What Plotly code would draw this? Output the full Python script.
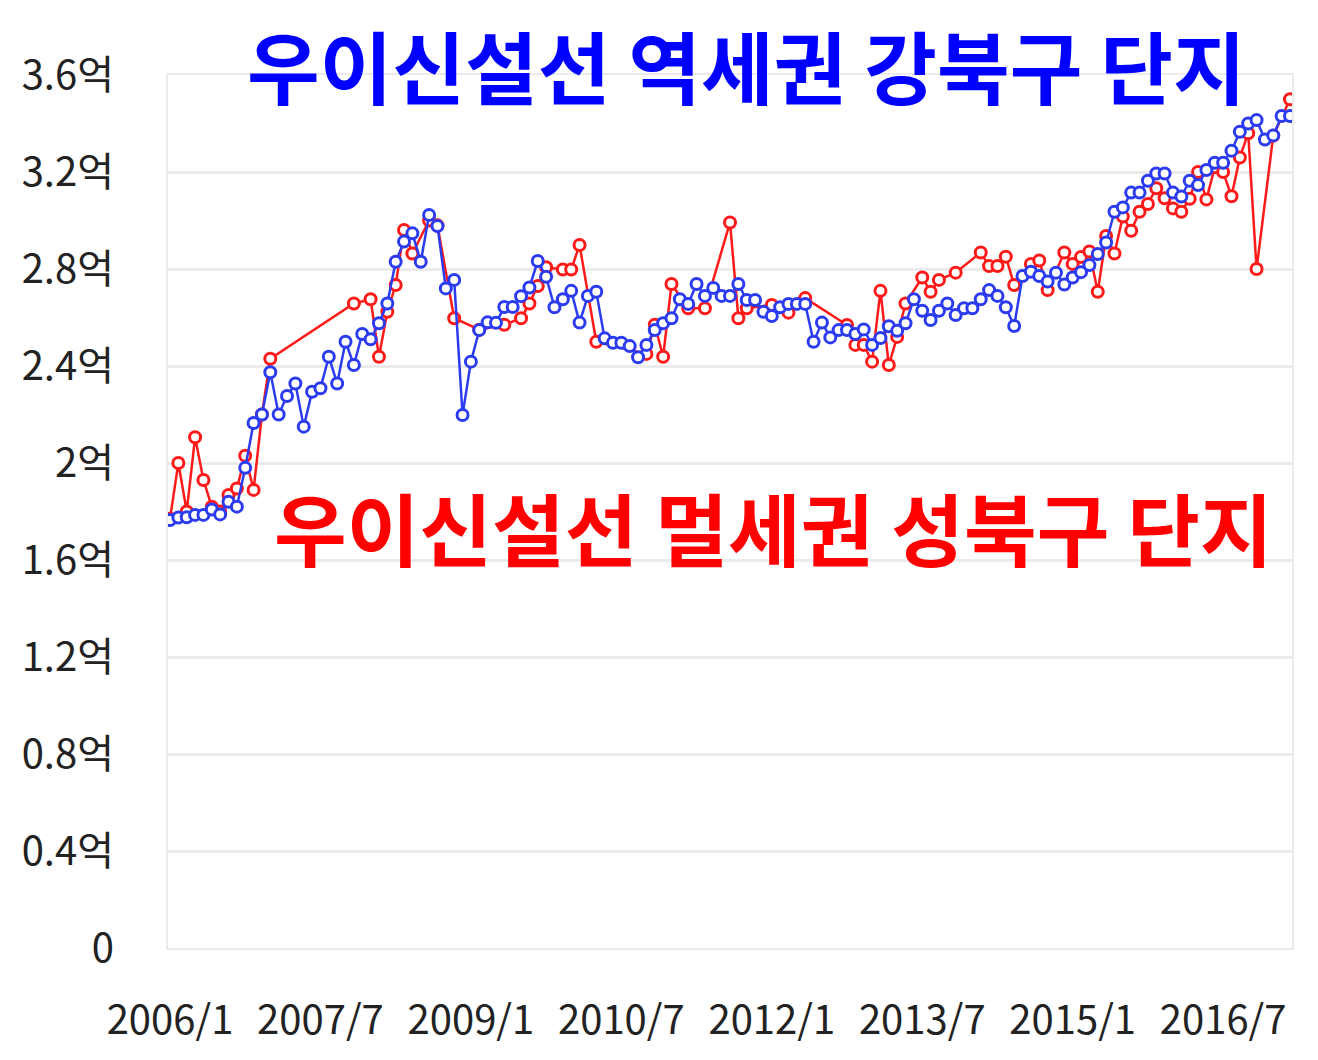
import plotly.graph_objects as go

# Monthly categories 2006/1 .. 2017/3
months = [f"{2006 + k // 12}/{k % 12 + 1}" for k in range(135)]

tick_labels = ["2006/1", "2007/7", "2009/1", "2010/7", "2012/1", "2013/7", "2015/1", "2016/7"]
y_ticks = [0, 0.4, 0.8, 1.2, 1.6, 2.0, 2.4, 2.8, 3.2, 3.6]
y_tick_text = ["0", "0.4억", "0.8억", "1.2억", "1.6억", "2억", "2.4억", "2.8억", "3.2억", "3.6억"]

# 우이신설선 역세권 강북구 단지 (blue)
gangbuk = [
    1.765, 1.775, 1.776, 1.786, 1.786, 1.808, 1.788, 1.84, 1.82, 1.98,
    2.165, 2.20, 2.374, 2.20, 2.276, 2.328, 2.15, 2.294, 2.308, 2.438,
    2.328, 2.50, 2.404, 2.532, 2.51, 2.576, 2.658, 2.83, 2.913, 2.947,
    2.83, 3.023, 2.977, 2.72, 2.755, 2.198, 2.418, 2.548, 2.58, 2.578,
    2.643, 2.643, 2.688, 2.724, 2.833, 2.768, 2.642, 2.675, 2.71, 2.579,
    2.689, 2.706, 2.514, 2.496, 2.496, 2.482, 2.436, 2.487, 2.548, 2.576,
    2.597, 2.675, 2.656, 2.738, 2.689, 2.722, 2.689, 2.689, 2.738, 2.672,
    2.672, 2.624, 2.606, 2.642, 2.656, 2.656, 2.656, 2.50, 2.579, 2.518,
    2.548, 2.548, 2.532, 2.551, 2.487, 2.515, 2.564, 2.545, 2.576, 2.675,
    2.628, 2.59, 2.628, 2.658, 2.61, 2.638, 2.638, 2.675, 2.713, 2.689,
    2.642, 2.565, 2.771, 2.789, 2.771, 2.748, 2.785, 2.736, 2.765, 2.787,
    2.816, 2.862, 2.909, 3.036, 3.054, 3.115, 3.115, 3.164, 3.194, 3.194,
    3.115, 3.099, 3.164, 3.146, 3.208, 3.238, 3.238, 3.288, 3.366, 3.40,
    3.414, 3.334, 3.351, 3.431, 3.431,
]

# 우이신설선 멀세권 성북구 단지 (red), None = no transaction that month
seongbuk = [
    1.77, 2.0, 1.80, 2.106, 1.93, 1.82, 1.80, 1.868, 1.895, 2.03,
    1.889, 2.2, 2.43, None, None, None, None, None, None, None,
    None, None, 2.658, None, 2.675, 2.438, 2.624, 2.734, 2.961, 2.864,
    None, 3.0, 2.98, None, 2.597, None, None, 2.55, None, None,
    2.57, None, 2.597, 2.658, 2.73, 2.807, None, 2.798, 2.798, 2.899,
    None, 2.50, None, None, None, None, None, 2.45, 2.57, 2.438,
    2.738, None, 2.638, None, 2.638, None, None, 2.992, 2.597, 2.638,
    None, None, 2.652, None, 2.62, None, 2.68, None, None, None,
    None, 2.569, 2.487, 2.487, 2.418, 2.71, 2.404, 2.52, 2.658, None,
    2.765, 2.706, 2.755, None, 2.785, None, None, 2.868, 2.812, 2.812,
    2.851, 2.734, None, 2.821, 2.835, 2.713, None, 2.868, 2.821, 2.85,
    2.872, 2.706, 2.936, 2.864, 3.016, 2.958, 3.036, 3.068, 3.133, 3.092,
    3.05, 3.036, 3.09, 3.20, 3.087, 3.22, 3.20, 3.10, 3.26, 3.36,
    2.80, None, 3.35, None, 3.50,
]

RED = "#ff1a1a"
BLUE = "#2b3cf0"

fig = go.Figure()
fig.add_trace(go.Scatter(
    x=list(range(len(months))), y=seongbuk, mode="lines+markers", connectgaps=True,
    line=dict(color=RED, width=2.5),
    marker=dict(symbol="circle", size=11, color="white", line=dict(color=RED, width=3)),
    customdata=months, hovertemplate="%{customdata}: %{y}억<extra></extra>",
    showlegend=False,
))
fig.add_trace(go.Scatter(
    x=list(range(len(months))), y=gangbuk, mode="lines+markers",
    line=dict(color=BLUE, width=2.5),
    marker=dict(symbol="circle", size=11, color="white", line=dict(color=BLUE, width=3)),
    customdata=months, hovertemplate="%{customdata}: %{y}억<extra></extra>",
    showlegend=False,
))

tick_pos = [months.index(t) for t in tick_labels]

fig.update_layout(
    width=1302, height=1044,
    margin=dict(l=160, r=18, t=67, b=104),
    paper_bgcolor="white", plot_bgcolor="white",
    font=dict(family="Noto Sans CJK KR, Noto Sans, sans-serif", color="#222222"),
    xaxis=dict(
        range=[-0.24, 134.24], automargin=False,
        tickmode="array", tickvals=tick_pos, ticktext=tick_labels,
        tickfont=dict(size=40, color="#222222"),
        showgrid=False, zeroline=False,
        showline=True, linecolor="#ebebeb", linewidth=2, mirror=True,
        ticks="", ticklabelstandoff=36,
    ),
    yaxis=dict(
        range=[0, 3.6], automargin=False,
        tickmode="array", tickvals=y_ticks, ticktext=y_tick_text,
        tickfont=dict(size=40, color="#222222"),
        showgrid=True, gridcolor="#ebebeb", gridwidth=2.5,
        zeroline=False,
        showline=True, linecolor="#ebebeb", linewidth=2, mirror=True,
        ticks="", ticklabelstandoff=44,
    ),
    annotations=[
        dict(text="<b>우이신설선 역세권 강북구 단지</b>", xref="paper", yref="paper",
             x=0.515, y=1.012, xanchor="center", yanchor="middle", showarrow=False,
             font=dict(size=79, color="#0000ff", family="Noto Sans CJK KR")),
        dict(text="<b>우이신설선 멀세권 성북구 단지</b>", xref="paper", yref="paper",
             x=0.539, y=0.483, xanchor="center", yanchor="middle", showarrow=False,
             font=dict(size=79, color="#ff0000", family="Noto Sans CJK KR")),
    ],
)

fig.write_html("out.html")
